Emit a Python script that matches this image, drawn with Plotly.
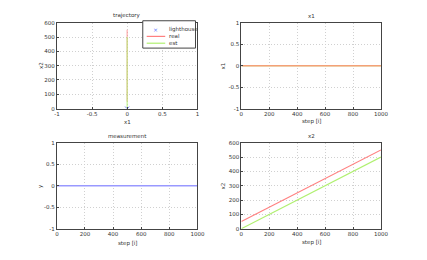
import plotly.graph_objects as go

# ---- data ----
steps = [0, 1000]
x1_real = [0, 0]
x1_est = [0, 0]
x2_real = [50, 550]
x2_est = [0, 500]
meas_y = [0, 0]
lighthouse_x = [0]
lighthouse_y = [0]

RED = "#ff8080"
GREEN = "#b0f070"
BLUE = "#9999ff"
ORANGE = "#f4a078"
FONT = "DejaVu Sans"
TXT = "#333333"

# page offset (browser body margin) compensation
OFF = 8
W, H = 427 - OFF, 260 - OFF

fig = go.Figure()

# trajectory
fig.add_trace(go.Scatter(x=lighthouse_x, y=lighthouse_y, mode="markers", name="lighthouse",
                         marker=dict(symbol="x-thin", size=4, line=dict(color="#6677ff", width=1)),
                         xaxis="x", yaxis="y", showlegend=False))
fig.add_trace(go.Scatter(x=x1_real, y=x2_real, mode="lines", name="real", opacity=0.6,
                         line=dict(color=RED, width=1.3), xaxis="x", yaxis="y", showlegend=False))
fig.add_trace(go.Scatter(x=x1_est, y=x2_est, mode="lines", name="est", opacity=0.7,
                         line=dict(color=GREEN, width=1.3), xaxis="x", yaxis="y", showlegend=False))
# x1
fig.add_trace(go.Scatter(x=steps, y=x1_est, mode="lines", showlegend=False,
                         line=dict(color=GREEN, width=1.3), xaxis="x2", yaxis="y2"))
fig.add_trace(go.Scatter(x=steps, y=x1_real, mode="lines", showlegend=False,
                         line=dict(color=ORANGE, width=1.5), xaxis="x2", yaxis="y2"))
# measurement
fig.add_trace(go.Scatter(x=steps, y=meas_y, mode="lines", showlegend=False,
                         line=dict(color=BLUE, width=1.3), xaxis="x3", yaxis="y3"))
# x2
fig.add_trace(go.Scatter(x=steps, y=x2_real, mode="lines", showlegend=False,
                         line=dict(color=RED, width=1.2), xaxis="x4", yaxis="y4"))
fig.add_trace(go.Scatter(x=steps, y=x2_est, mode="lines", showlegend=False,
                         line=dict(color=GREEN, width=1.2), xaxis="x4", yaxis="y4"))

def px(x): return (x - OFF) / W
def py(y): return 1 - (y - OFF) / H
def dx(a, b): return [px(a), px(b)]
def dy(top, bot): return [py(bot), py(top)]

axcommon = dict(showline=True, linecolor="#444444", linewidth=1, mirror=True,
                showgrid=True, gridcolor="#d0d0d0", griddash="1px,2px", gridwidth=1,
                zeroline=False, ticks="inside", ticklen=2, tickcolor="#444444",
                tickfont=dict(size=5.5, color=TXT, family=FONT))

L, R = 55, 199
L2, R2 = 244, 387
T1, B1 = 20, 108
T2, B2 = 143, 231

ticks11 = dict(range=[-1, 1], tickvals=[-1, -0.5, 0, 0.5, 1], ticktext=["-1", "-0.5", "0", "0.5", "1"])
ticks_step = dict(range=[0, 1000], tickvals=[0, 200, 400, 600, 800, 1000])
ticks600 = dict(range=[0, 600], tickvals=[0, 100, 200, 300, 400, 500, 600])

fig.update_layout(
    width=W, height=H, margin=dict(l=0, r=0, t=0, b=0),
    plot_bgcolor="white", paper_bgcolor="white",
    font=dict(family=FONT, size=6, color=TXT),
    xaxis=dict(domain=dx(L, R), anchor="y", **ticks11, **axcommon),
    yaxis=dict(domain=dy(T1, B1), anchor="x", **ticks600, **axcommon),
    xaxis2=dict(domain=dx(L2, R2), anchor="y2", **ticks_step, **axcommon),
    yaxis2=dict(domain=dy(T1, B1), anchor="x2", **ticks11, **axcommon),
    xaxis3=dict(domain=dx(L, R), anchor="y3", **ticks_step, **axcommon),
    yaxis3=dict(domain=dy(T2, B2), anchor="x3", **ticks11, **axcommon),
    xaxis4=dict(domain=dx(L2, R2), anchor="y4", **ticks_step, **axcommon),
    yaxis4=dict(domain=dy(T2, B2), anchor="x4", **ticks600, **axcommon),
    showlegend=False,
)

def ann(text, x, y, rot=0, xanchor="center", color=TXT, size=5.5):
    fig.add_annotation(text=text, x=px(x), y=py(y), xref="paper", yref="paper",
                       showarrow=False, textangle=rot, font=dict(size=size, family=FONT, color=color),
                       xanchor=xanchor, yanchor="middle")

ann("trajectory", (L + R) / 2, 13)
ann("x1", (L2 + R2) / 2, 13)
ann("measurement", (L + R) / 2, 136)
ann("x2", (L2 + R2) / 2, 136)
ann("x1", (L + R) / 2, 122)
ann("step [i]", (L2 + R2) / 2, 121)
ann("step [i]", (L + R) / 2, 246)
ann("step [i]", (L2 + R2) / 2, 245)
ann("x2", 38, 64, -90)
ann("x1", 225, 64, -90)
ann("y", 38, 187, -90)
ann("x2", 225, 187, -90)

# legend box (manual, compact)
fig.add_shape(type="rect", xref="paper", yref="paper",
              x0=px(143), x1=px(197), y0=py(46), y1=py(18),
              line=dict(color="#444444", width=1), fillcolor="white", layer="above")
fig.add_shape(type="line", xref="paper", yref="paper", x0=px(147), x1=px(166), y0=py(34), y1=py(34),
              line=dict(color=RED, width=1.2), layer="above")
fig.add_shape(type="line", xref="paper", yref="paper", x0=px(147), x1=px(166), y0=py(41), y1=py(41),
              line=dict(color=GREEN, width=1.2), layer="above")
ann("×", 156.5, 26.5, color="#6677ff", size=6)
ann("lighthouse", 168, 26.5, xanchor="left")
ann("real", 168, 33.5, xanchor="left")
ann("est", 168, 40.5, xanchor="left")

fig.write_html("out.html")
